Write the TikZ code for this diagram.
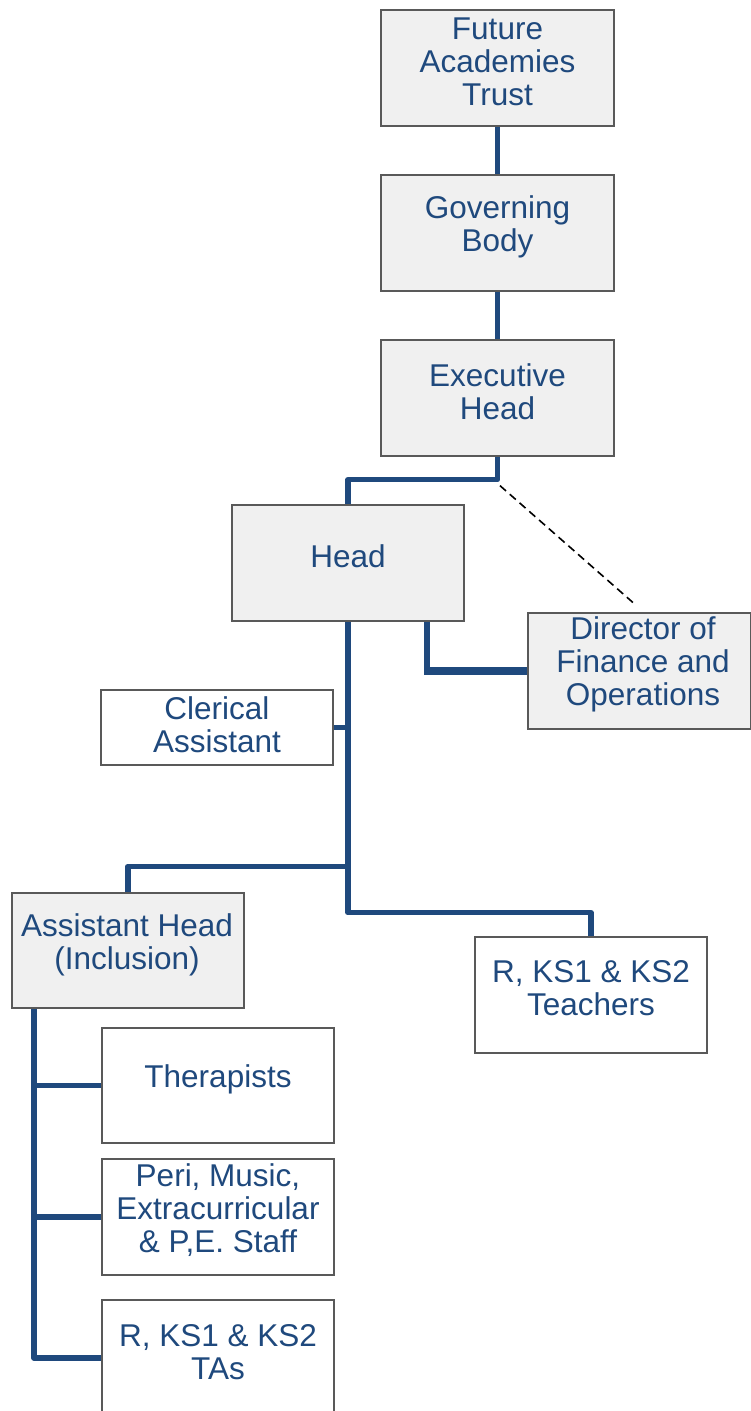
\documentclass[tikz,border=0pt]{standalone}
\usepackage{fontspec}
\setmainfont{Liberation Sans}
\definecolor{ln}{HTML}{1F497D}
\definecolor{tx}{HTML}{1F497D}
\definecolor{bx}{HTML}{F0F0F0}
\definecolor{bd}{HTML}{595959}
\begin{document}
\begin{tikzpicture}[x=1pt,y=-1pt,
 graybox/.style={draw=bd,line width=1.3pt,fill=bx,inner sep=0pt,minimum width=232pt,minimum height=116pt},
 whitebox/.style={draw=bd,line width=1.3pt,fill=white,inner sep=0pt,minimum width=232pt,minimum height=116pt},
 lbl/.style={text=tx,align=center,font=\fontsize{31.5}{33}\selectfont,inner sep=0pt},
 conn/.style={draw=ln,line width=5.5pt,line join=round}]
\useasboundingbox (0,0) rectangle (751,1411);
\clip (0,0) rectangle (751,1411);
% boxes
\node[graybox,minimum width=233pt] (fat) at (497.5,68) {};
\node[graybox,minimum width=233pt] (gb) at (497.5,233) {};
\node[graybox,minimum width=233pt] (eh) at (497.5,398) {};
\node[graybox] (head) at (348,563) {};
\node[graybox,minimum width=223pt] (dir) at (639.5,671) {};
\node[whitebox,minimum height=75pt] (cler) at (217,727.5) {};
\node[graybox,minimum height=115pt] (ah) at (128,950.5) {};
\node[whitebox] (teach) at (591,995) {};
\node[whitebox,minimum height=115pt] (ther) at (218,1085.5) {};
\node[whitebox] (peri) at (218,1217) {};
\node[whitebox] (tas) at (218,1358) {};
% labels
\node[lbl] (fatT) at ([yshift=6.5pt]fat.center) {Future\\Academies\\Trust};
\node[lbl] (gbT) at ([yshift=6pt]gb.center) {Governing\\Body};
\node[lbl] (ehT) at ([yshift=6.5pt]eh.center) {Executive\\Head};
\node[lbl] (headT) at ([yshift=7pt]head.center) {Head};
\node[lbl] (dirT) at ([xshift=3.5pt,yshift=6.5pt]dir.center) {Director of\\Finance and\\Operations};
\node[lbl] (clerT) at ([yshift=3pt]cler.center) {Clerical\\Assistant};
\node[lbl] (ahT) at ([xshift=-1pt,yshift=5.5pt]ah.center) {Assistant Head\\(Inclusion)};
\node[lbl] (teachT) at ([yshift=6.5pt]teach.center) {R, KS1 \& KS2\\Teachers};
\node[lbl] (therT) at ([yshift=6pt]ther.center) {Therapists};
\node[lbl] (periT) at ([yshift=6.5pt]peri.center) {Peri, Music,\\Extracurricular\\\& P,E. Staff};
\node[lbl] (tasT) at ([yshift=6pt]tas.center) {R, KS1 \& KS2\\TAs};
% connectors
\draw[conn] (fat.south) -- (gb.north);
\draw[conn] (gb.south) -- (eh.north);
\draw[conn] (eh.south) -- ++(0,23) -| (head.north);
\draw[black,line width=1.6pt,dash pattern=on 8pt off 5pt] ([xshift=2.5pt,yshift=-29pt]eh.south) -- ([xshift=-4.5pt,yshift=8pt]dir.north);
\coordinate (hd) at ([xshift=79pt]head.south);
\draw[conn] (hd) -- (hd |- dir.west);
\draw[draw=ln,line width=8pt] ([xshift=-2.75pt]hd |- dir.west) -- (dir.west);
\draw[conn] (head.south) -- ++(0,291) -| (teach.north);
\draw[conn] (cler.east) -- (cler.east -| head.south);
\draw[conn] (ah.north) -- ++(0,-26) coordinate (ahk) -- (ahk -| head.south);
\coordinate (av) at ([xshift=-94pt]ah.south);
\draw[conn] (av) |- (tas.west);
\draw[conn] (ther.west) -- (ther.west -| av);
\draw[conn] (peri.west) -- (peri.west -| av);
\end{tikzpicture}
\end{document}
